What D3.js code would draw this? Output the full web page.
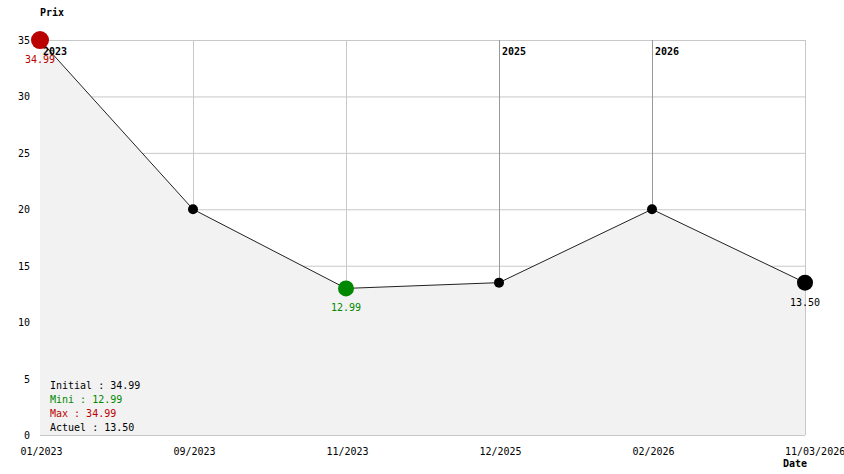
<!DOCTYPE html>
<html><head><meta charset="utf-8">
<script src="https://cdn.jsdelivr.net/npm/d3@7"></script>
<style>body{margin:0;background:#fff}svg{display:block}text{font-family:"DejaVu Sans Mono","Liberation Mono",monospace;font-size:10px}</style>
</head><body><svg id="c" width="844" height="474"></svg>
<script>
const dates = ["01/2023","09/2023","11/2023","12/2025","02/2026","11/03/2026"];
const prices = [34.99, 20, 12.99, 13.5, 20, 13.5];
const yTicks = [0,5,10,15,20,25,30,35];
const yearMarks = [{i:0,label:"2023"},{i:3,label:"2025"},{i:4,label:"2026"}];
const legend = [
  {t:"Initial : 34.99", c:"#000"},
  {t:"Mini : 12.99", c:"#008800"},
  {t:"Max : 34.99", c:"#bb0000"},
  {t:"Actuel : 13.50", c:"#000"}
];

const svg = d3.select("#c");
const L=40,R=805,T=40,B=435;
const x = d3.scalePoint().domain(d3.range(dates.length)).range([L,R]);
const y = d3.scaleLinear().domain([0,35]).range([B,T]);

// grid
svg.append("g").selectAll("line").data(yTicks).join("line")
  .attr("x1",L).attr("x2",R).attr("y1",d=>y(d)+0.5).attr("y2",d=>y(d)+0.5)
  .attr("stroke","#c8c8c8");
svg.append("g").selectAll("line").data(d3.range(dates.length)).join("line")
  .attr("x1",d=>Math.round(x(d))+0.5).attr("x2",d=>Math.round(x(d))+0.5).attr("y1",T).attr("y2",B)
  .attr("stroke",d=>yearMarks.some(m=>m.i===d&&d>0)?"#999":"#c8c8c8");

// area
svg.append("path").datum(prices)
  .attr("d",d3.area().x((d,i)=>x(i)).y0(B).y1(d=>y(d)))
  .attr("fill","#f2f2f2");
svg.append("path").datum(prices)
  .attr("d",d3.line().x((d,i)=>x(i)).y(d=>y(d)))
  .attr("fill","none").attr("stroke","#222").attr("stroke-width",1);

// year labels
svg.append("g").selectAll("text").data(yearMarks).join("text")
  .attr("x",d=>x(d.i)+3).attr("y",T+15).attr("font-weight","bold").attr("font-size","11px").attr("fill","#000")
  .text(d=>d.label);

// axes text
svg.append("g").selectAll("text").data(yTicks).join("text")
  .attr("x",30).attr("y",d=>y(d)+4).attr("text-anchor","end").text(d=>d);
svg.append("g").selectAll("text").data(dates).join("text")
  .attr("x",(d,i)=>i===dates.length-1?x(i)-20:x(i)+1.5).attr("y",455)
  .attr("text-anchor",(d,i)=>i===dates.length-1?"start":"middle").text(d=>d);
svg.append("text").attr("x",L).attr("y",16).attr("font-weight","bold").attr("font-size","11px").text("Prix");
svg.append("text").attr("x",783).attr("y",467).attr("font-weight","bold").attr("font-size","11px").text("Date");

// points
const maxV=d3.max(prices), minV=d3.min(prices);
const iMax=prices.indexOf(maxV), iMin=prices.indexOf(minV), iLast=prices.length-1;
svg.append("g").selectAll("circle").data(prices).join("circle")
  .attr("cx",(d,i)=>x(i)).attr("cy",d=>y(d))
  .attr("r",(d,i)=>i===iMax?9:i===iMin?8:i===iLast?8:5)
  .attr("fill",(d,i)=>i===iMax?"#bb0000":i===iMin?"#008800":"#000");
const lbl=[{i:iMax,c:"#bb0000"},{i:iMin,c:"#008800"},{i:iLast,c:"#000"}];
svg.append("g").selectAll("text").data(lbl).join("text")
  .attr("x",d=>x(d.i)).attr("y",d=>y(prices[d.i])+23).attr("text-anchor","middle")
  .attr("fill",d=>d.c).text(d=>prices[d.i].toFixed(2));

// legend
svg.append("g").selectAll("text").data(legend).join("text")
  .attr("x",50).attr("y",(d,i)=>389+i*14).attr("fill",d=>d.c).text(d=>d.t);
</script></body></html>
